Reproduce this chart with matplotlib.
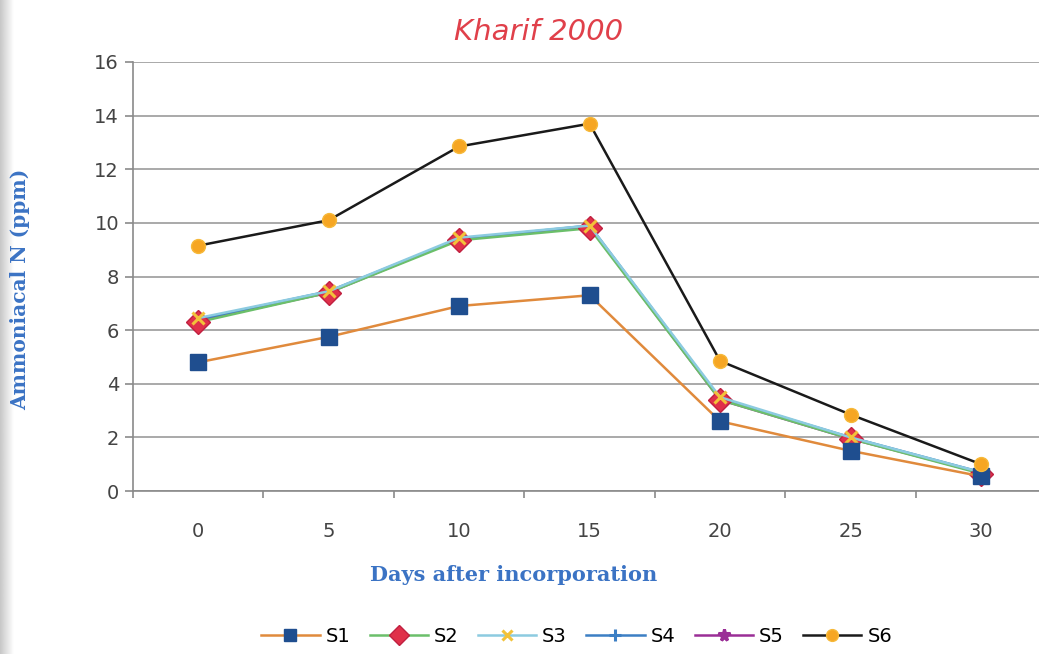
import matplotlib

matplotlib.use("Agg")
import matplotlib.pyplot as plt
import numpy as np

DAYS = ["0", "5", "10", "15", "20", "25", "30"]
SERIES = ["S1", "S2", "S3", "S4", "S5", "S6"]

S1 = [4.8, 5.75, 6.9, 7.3, 2.6, 1.5, 0.55]
S2 = [6.3, 7.4, 9.35, 9.8, 3.4, 1.95, 0.65]
S3 = [6.45, 7.45, 9.45, 9.9, 3.5, 2.0, 0.7]
S4 = [6.4, 7.45, 9.4, 9.9, 3.45, 2.0, 0.7]
S5 = [6.35, 7.4, 9.4, 9.85, 3.4, 1.95, 0.68]
S6 = [9.15, 10.1, 12.85, 13.7, 4.85, 2.85, 1.0]

# (line colour, marker, marker face, marker edge, marker size, z-order)
STYLES = [
    ("#e08a3c", "s", "#1f4e8f", "#1f4e8f", 11, 6),
    ("#6bbf6a", "D", "#e0304a", "#c02040", 12, 4),
    ("#8ccbe0", "x", "#f2c23a", "#f2c23a", 8, 5),
    ("#3c7fc4", "+", "#3c7fc4", "#3c7fc4", 10, 3),
    ("#9a2e96", "*", "#9a2e96", "#9a2e96", 10, 2),
    ("#1a1a1a", "o", "#f6a623", "#f6b93a", 10, 7),
]

LABEL_BLUE = "#3b73c4"
GRID_GRAY = "#a9a9a9"
TICK_GRAY = "#444444"

fig = plt.figure(figsize=(10.39, 6.54), dpi=100)

# grey binding shadow along the left edge of the page
strip = fig.add_axes([0, 0, 0.013, 1])
strip.imshow(np.linspace(0.78, 1.0, 50)[None, :], cmap="gray", vmin=0, vmax=1,
             aspect="auto", extent=(0, 1, 0, 1))
strip.axis("off")

ax = fig.add_axes([0.128, 0.2492, 0.879, 0.656])

x = np.arange(len(DAYS))
handles = []
for name, values, (lc, mk, mfc, mec, ms, z) in zip(
    SERIES, [S1, S2, S3, S4, S5, S6], STYLES
):
    (line,) = ax.plot(
        x,
        values,
        color=lc,
        lw=1.8,
        marker=mk,
        markersize=ms,
        markerfacecolor=mfc,
        markeredgecolor=mec,
        markeredgewidth=2.2 if mk in ("x", "+", "*") else 1,
        label=name,
        zorder=z,
    )
    handles.append(line)

ax.set_xlim(-0.5, 6.5)
ax.set_ylim(0, 16)
ax.set_yticks(np.arange(0, 17, 2))
ax.set_xticks(x)
ax.set_xticklabels(DAYS)
ax.set_xticks(np.arange(-0.5, 7, 1), minor=True)

ax.yaxis.grid(True, color=GRID_GRAY, lw=1.4)
ax.set_axisbelow(True)
for side in ("top", "right"):
    ax.spines[side].set_visible(False)
for side in ("left", "bottom"):
    ax.spines[side].set_color("#8a8a8a")
    ax.spines[side].set_linewidth(1.2)

ax.tick_params(axis="y", length=6, width=1.2, color="#8a8a8a", pad=4,
               labelsize=14, labelcolor=TICK_GRAY)
ax.tick_params(axis="x", which="major", length=0, pad=22,
               labelsize=14, labelcolor=TICK_GRAY)
ax.tick_params(axis="x", which="minor", length=5, width=1.2, color="#8a8a8a")

ax.set_xlabel("Days after incorporation", family="DejaVu Serif",
              fontweight="bold", fontsize=15, color=LABEL_BLUE)
ax.xaxis.set_label_coords(0.417, -0.172)
ax.set_ylabel("Ammoniacal N (ppm)", family="DejaVu Serif",
              fontweight="bold", fontsize=14.5, color=LABEL_BLUE)
ax.yaxis.set_label_coords(-0.113, 0.47)

fig.text(0.518, 0.951, "Kharif 2000", ha="center", va="center",
         fontsize=21, style="italic", color="#e0404a", family="DejaVu Sans")

fig.legend(handles=handles, loc="center", bbox_to_anchor=(0.555, 0.027),
           ncol=6, frameon=False, handlelength=3.0, columnspacing=1.0,
           handletextpad=0.3, markerscale=0.85,
           prop={"family": "DejaVu Sans", "size": 14})

fig.savefig("out.png", dpi=100)
